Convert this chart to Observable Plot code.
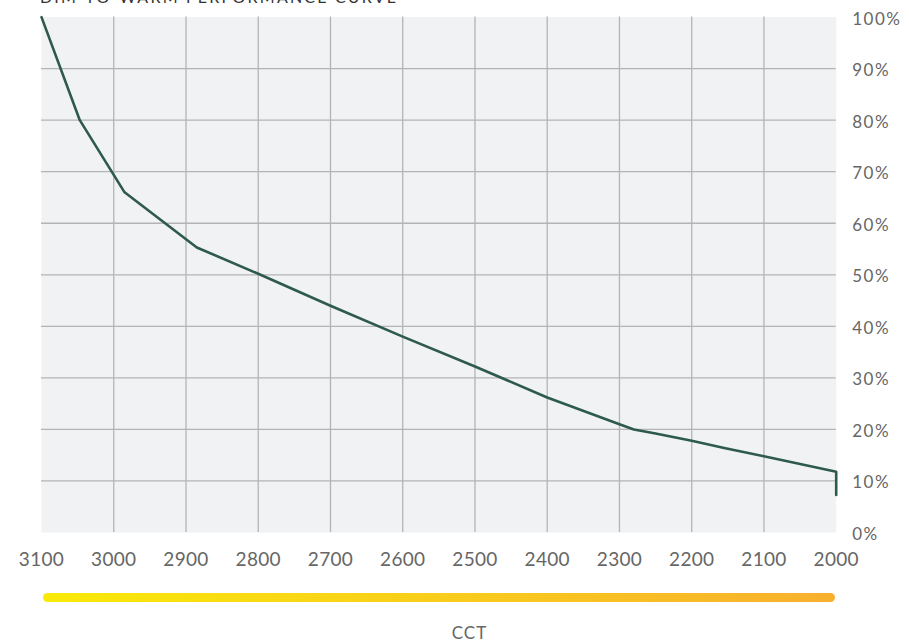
<!DOCTYPE html>
<html>
<head>
<meta charset="utf-8">
<script src="https://cdn.jsdelivr.net/npm/d3@7"></script>
<script src="https://cdn.jsdelivr.net/npm/@observablehq/plot@0.6"></script>
<style>
  html, body { margin: 0; padding: 0; background: #fff; overflow: hidden; }
  #wrap { position: relative; width: 909px; height: 643px; font-family: Lato, "Open Sans", sans-serif; }
  #title { position: absolute; left: 40px; top: -11px; font-size: 16px; line-height: 16px; letter-spacing: 2.2px; color: #333; white-space: nowrap; }
  #chart { position: absolute; left: 0; top: 0; }
  #bar { position: absolute; left: 43px; top: 593px; width: 792px; height: 9px; border-radius: 4.5px;
         background: linear-gradient(to right, #f9ea08, #f8b02e); }
  #cct { position: absolute; left: 0; width: 939px; top: 622px; text-align: center; font-size: 17px; color: #666; letter-spacing: 1px; }
  svg g[aria-label="y-axis tick label"] text { letter-spacing: 1.5px; }
  svg g[aria-label="x-axis tick label"] text { letter-spacing: 0.3px; }
</style>
</head>
<body>
<div id="wrap">
  <div id="title">DIM-TO-WARM PERFORMANCE CURVE</div>
  <div id="chart"></div>
  <div id="bar"></div>
  <div id="cct">CCT</div>
</div>
<script>
const cct = [3100, 3047, 2985, 2885, 2800, 2700, 2600, 2500, 2400, 2300, 2280, 2250, 2200, 2155, 2100, 2000, 2000];
const pct = [100, 80, 66, 55.3, 50.2, 44, 38, 32.2, 26.2, 21.0, 20.0, 19.2, 17.8, 16.4, 14.8, 11.8, 7.3];
const xTicks = [3100, 3000, 2900, 2800, 2700, 2600, 2500, 2400, 2300, 2200, 2100, 2000];
const yTicks = [0, 10, 20, 30, 40, 50, 60, 70, 80, 90, 100];

const data = cct.map((c, i) => ({cct: c, pct: pct[i]}));
const H = 643;

const chart = Plot.plot({
  width: 909,
  height: H,
  marginTop: 16.6,
  marginLeft: 41,
  marginRight: 73.3,
  marginBottom: H - 532,
  style: {fontFamily: "Lato, 'Open Sans', sans-serif", background: "transparent"},
  x: {domain: [3100, 2000]},
  y: {domain: [0, 100]},
  marks: [
    Plot.frame({fill: "#f1f2f4", stroke: null}),
    Plot.ruleX(xTicks.slice(1, -1), {stroke: "#b4b4b4", strokeWidth: 1.3}),
    Plot.ruleY(yTicks.slice(1, -1), {stroke: "#b4b4b4", strokeWidth: 1.3}),
    Plot.line(data, {x: "cct", y: "pct", stroke: "#2e5a4c", strokeWidth: 2.6}),
    Plot.axisX(xTicks, {tickSize: 0, tickPadding: 20, fontSize: 19, fill: "#666", tickFormat: d => String(d), label: null}),
    Plot.axisY(yTicks, {anchor: "right", tickSize: 0, tickPadding: 16, fontSize: 17, fill: "#666", dy: 2, tickFormat: d => d + "%", label: null})
  ]
});
document.getElementById("chart").appendChild(chart);
</script>
</body>
</html>
